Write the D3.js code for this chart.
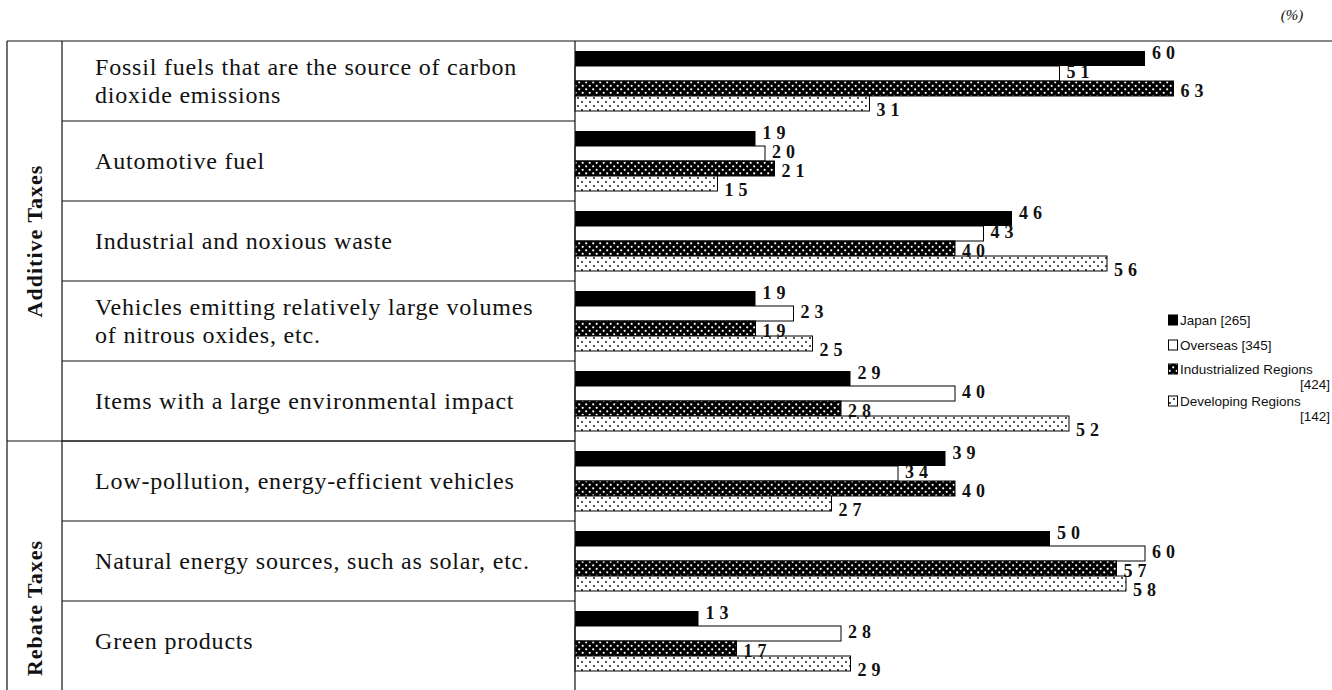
<!DOCTYPE html>
<html>
<head>
<meta charset="utf-8">
<script src="https://cdn.jsdelivr.net/npm/d3@7"></script>
<style>
  body { margin: 0; background: #fff; }
  svg { display: block; }
  .serif { font-family: "Liberation Serif", "Times New Roman", Times, serif; }
  .sans { font-family: "Liberation Sans", Arial, Helvetica, sans-serif; }
</style>
</head>
<body>
<svg id="chart" width="1332" height="690"></svg>
<script>
// Tax targets (each entry may carry a line break)
const categories = [
  "Fossil fuels that are the source of carbon\ndioxide emissions",
  "Automotive fuel",
  "Industrial and noxious waste",
  "Vehicles emitting relatively large volumes\nof nitrous oxides, etc.",
  "Items with a large environmental impact",
  "Low-pollution, energy-efficient vehicles",
  "Natural energy sources, such as solar, etc.",
  "Green products"
];

// Tax groups and the number of categories each spans
const groupNames = ["Additive Taxes", "Rebate Taxes"];
const groupSizes = [5, 3];

// Respondent groups and their sample sizes
const seriesNames = ["Japan", "Overseas", "Industrialized Regions", "Developing Regions"];
const sampleSizes = [265, 345, 424, 142];

// Share of respondents (%)
const japan          = [60, 19, 46, 19, 29, 39, 50, 13];
const overseas       = [51, 20, 43, 23, 40, 34, 60, 28];
const industrialized = [63, 21, 40, 19, 28, 40, 57, 17];
const developing     = [31, 15, 56, 25, 52, 27, 58, 29];

const seriesValues = [japan, overseas, industrialized, developing];

// ---- layout ----
const W = 1332, H = 690;
const tableLeft = 7, groupColRight = 62, axisX = 575, tableTop = 41;
const rowH = 80;

const svg = d3.select("#chart");
const defs = svg.append("defs");

// Dotted fills: white dots on black, black dots on white
const pInd = defs.append("pattern").attr("id", "pInd")
  .attr("patternUnits", "userSpaceOnUse").attr("width", 7).attr("height", 7);
pInd.append("rect").attr("width", 7).attr("height", 7).attr("fill", "#000");
pInd.append("circle").attr("cx", 1.7).attr("cy", 1.8).attr("r", 1.1).attr("fill", "#fff");
pInd.append("circle").attr("cx", 5.2).attr("cy", 5.3).attr("r", 1.1).attr("fill", "#fff");

const pDev = defs.append("pattern").attr("id", "pDev")
  .attr("patternUnits", "userSpaceOnUse").attr("width", 8).attr("height", 8);
pDev.append("rect").attr("width", 8).attr("height", 8).attr("fill", "#fff");
pDev.append("circle").attr("cx", 2).attr("cy", 2).attr("r", 0.9).attr("fill", "#000");
pDev.append("circle").attr("cx", 6).attr("cy", 6).attr("r", 0.9).attr("fill", "#000");

const fills = ["#000", "#fff", "url(#pInd)", "url(#pDev)"];

// Scales
const x = d3.scaleLinear().domain([0, 60]).range([axisX, axisX + 570]);
const y = d3.scaleBand().domain(d3.range(categories.length))
  .range([tableTop, tableTop + rowH * categories.length]).padding(0);
const ySub = d3.scaleBand().domain(d3.range(seriesNames.length))
  .range([10, 70]).padding(0);

const ink = "#111";

// ---- table frame ----
const frame = svg.append("g").attr("stroke", ink).attr("stroke-width", 1.2).attr("fill", "none");
frame.append("line").attr("x1", tableLeft).attr("x2", W).attr("y1", tableTop).attr("y2", tableTop);
frame.append("line").attr("x1", tableLeft).attr("x2", tableLeft).attr("y1", tableTop).attr("y2", H);
frame.append("line").attr("x1", groupColRight).attr("x2", groupColRight).attr("y1", tableTop).attr("y2", H);

// row dividers within the category column
frame.selectAll("line.row").data(d3.range(1, categories.length)).join("line")
  .attr("class", "row")
  .attr("x1", groupColRight).attr("x2", axisX)
  .attr("y1", d => y(d)).attr("y2", d => y(d));

// group divider spans both columns
const groupStarts = groupSizes.map((s, i) => d3.sum(groupSizes.slice(0, i)));
frame.selectAll("line.grp").data(groupStarts.slice(1)).join("line")
  .attr("class", "grp")
  .attr("x1", tableLeft).attr("x2", axisX)
  .attr("y1", d => y(d)).attr("y2", d => y(d));

// group labels (vertical)
const groupCenters = [
  (y(0) + y(4) + y.bandwidth()) / 2,
  608
];
svg.append("g").attr("class", "serif").selectAll("text").data(groupNames).join("text")
  .attr("transform", (d, i) => `translate(${(tableLeft + groupColRight) / 2 + 7},${groupCenters[i]}) rotate(-90)`)
  .attr("text-anchor", "middle")
  .attr("font-weight", "bold")
  .attr("font-size", 22)
  .attr("letter-spacing", 1)
  .attr("fill", ink)
  .text(d => d);

// category labels
const catG = svg.append("g").attr("class", "serif")
  .attr("font-size", 24)
  .attr("letter-spacing", 0.8)
  .attr("fill", ink);
categories.forEach((c, i) => {
  const lines = c.split("\n");
  const cy = y(i) + y.bandwidth() / 2;
  const lh = 28;
  const t = catG.append("text").attr("x", 95);
  lines.forEach((ln, k) => {
    t.append("tspan").attr("x", 95)
      .attr("y", cy + (k - (lines.length - 1) / 2) * lh)
      .attr("dy", "0.35em")
      .text(ln);
  });
});

// ---- bars ----
const barG = svg.append("g");
seriesValues.forEach((vals, s) => {
  barG.append("g").selectAll("rect").data(vals).join("rect")
    .attr("x", x(0))
    .attr("y", (d, i) => y(i) + ySub(s))
    .attr("width", d => x(d) - x(0))
    .attr("height", ySub.bandwidth())
    .attr("fill", fills[s])
    .attr("stroke", s === 0 ? "none" : "#000")
    .attr("stroke-width", 1);
});

// axis line
svg.append("g").attr("transform", `translate(${axisX},0)`)
  .call(d3.axisLeft(y).tickSize(0).tickFormat(""))
  .call(g => g.select(".domain").attr("stroke", ink).attr("stroke-width", 1.2)
    .attr("d", `M0,${tableTop}V${H}`));

// value labels, fanned out to the right of each bar end
const labG = svg.append("g").attr("class", "serif")
  .attr("font-weight", "bold")
  .attr("font-size", 18)
  .attr("letter-spacing", 5)
  .attr("fill", ink);
seriesValues.forEach((vals, s) => {
  labG.append("g").selectAll("text").data(vals).join("text")
    .attr("x", d => x(d) + 7)
    .attr("y", (d, i) => y(i) + 40 + (s - 1.5) * 19)
    .attr("dy", "0.35em")
    .text(d => d);
});

// ---- legend ----
const leg = svg.append("g").attr("class", "sans").attr("transform", "translate(1168,0)")
  .attr("font-size", 13.5)
  .attr("fill", ink);
const legY = [320, 345, 369, 401];
seriesNames.forEach((n, s) => {
  const g = leg.append("g").attr("transform", `translate(0,${legY[s]})`);
  g.append("rect").attr("x", 0.5).attr("y", -5).attr("width", 9).attr("height", 10)
    .attr("fill", fills[s]).attr("stroke", "#000").attr("stroke-width", 1);
  if (s < 2) {
    g.append("text").attr("x", 12).attr("dy", "0.35em").text(`${n} [${sampleSizes[s]}]`);
  } else {
    g.append("text").attr("x", 12).attr("dy", "0.35em").text(n);
    g.append("text").attr("x", 162).attr("y", 15).attr("dy", "0.35em")
      .attr("text-anchor", "end").text(`[${sampleSizes[s]}]`);
  }
});

// unit
svg.append("text").attr("class", "serif").attr("x", 1292).attr("y", 20).attr("text-anchor", "middle")
  .attr("font-style", "italic").attr("font-size", 15).attr("fill", ink)
  .text("(%)");
</script>
</body>
</html>
